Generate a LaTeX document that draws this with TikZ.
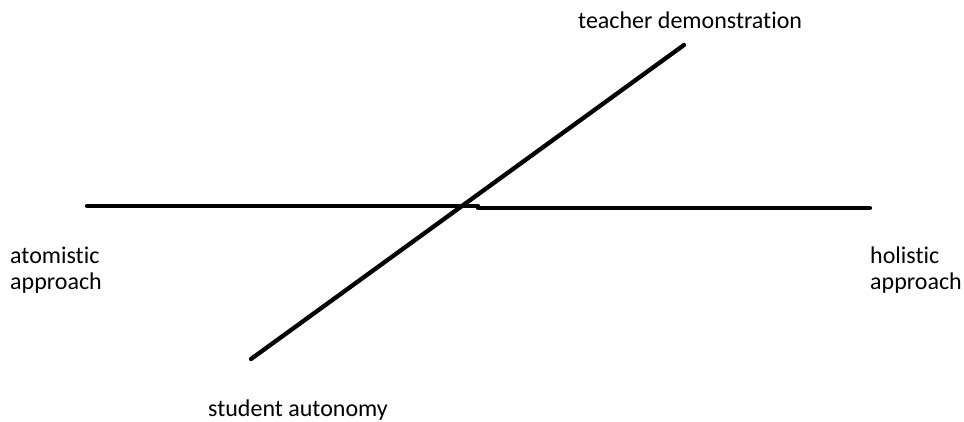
\documentclass[tikz,border=0pt]{standalone}
\usepackage{fontspec}
\setmainfont{Carlito}[Ligatures=NoCommon]
\begin{document}
\begin{tikzpicture}[x=1pt,y=-1pt,
  stroke/.style={line width=4.3pt,line cap=round,black},
  lbl/.style={font=\fontsize{24}{26}\selectfont,inner sep=0pt,align=left}]
\useasboundingbox[fill=white] (0,0) rectangle (964,422);
\coordinate (hl) at (87,206);
\coordinate (hm) at (478,206);
\coordinate (hm2) at (478,208);
\coordinate (hr) at (870,208);
\coordinate (dl) at (251,359);
\coordinate (du) at (684,45);
\draw[stroke] (hl) -- (hm);
\draw[stroke] (hm2) -- (hr);
\draw[stroke] (dl) -- (du);
\node[lbl,anchor=base west] (td) at (578,29) {teacher demonstration};
\node[lbl,anchor=base west] (at) at (10,290) {atomistic\\approach};
\node[lbl,anchor=base west] (ho) at (870,290) {holistic\\approach};
\node[lbl,anchor=base west] (sa) at (208,416) {student autonomy};
\end{tikzpicture}
\end{document}
